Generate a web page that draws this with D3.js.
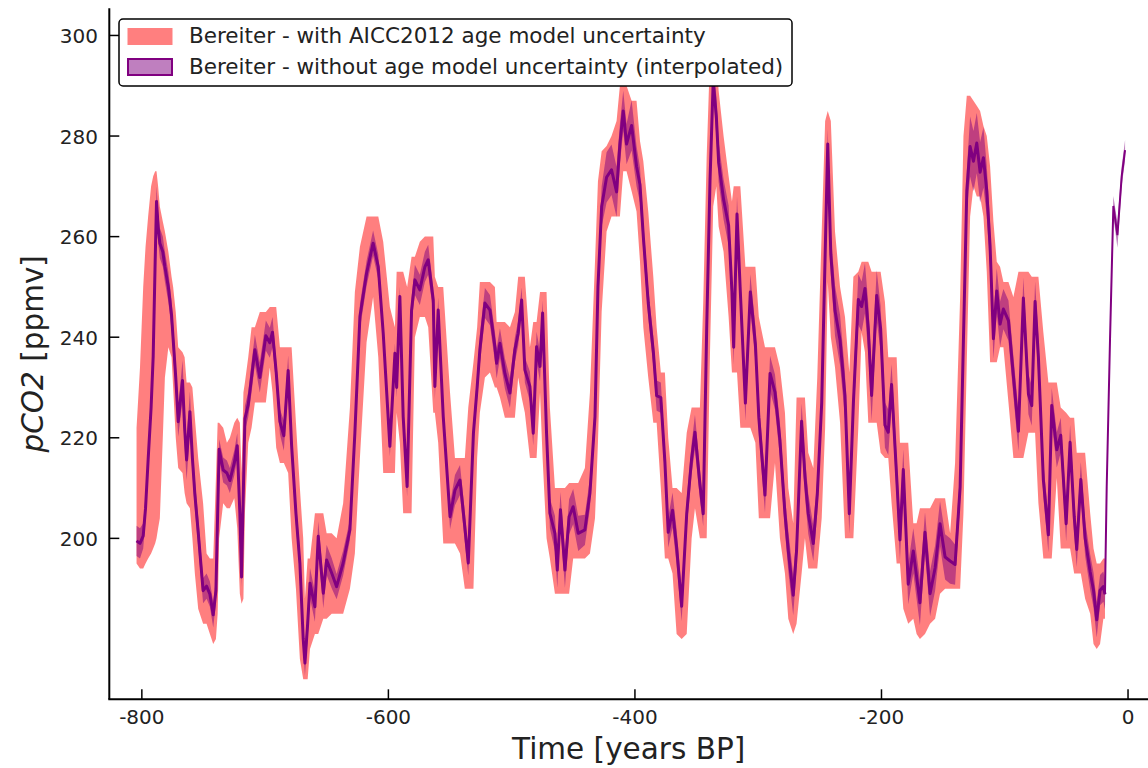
<!DOCTYPE html>
<html>
<head>
<meta charset="utf-8">
<script src="https://cdn.jsdelivr.net/npm/d3@7"></script>
<style>
  body { margin: 0; background: #fff; }
  text { font-family: "DejaVu Sans", sans-serif; fill: #222; }
</style>
</head>
<body>
<div id="chart"></div>
<script>
// ages in kyr BP (negative = before present)
const ages = [
  -804.3,-801.5,-798.9,-797,-794.9,-792.5,-790.8,-789.2,-788.1,-786.8,
  -785.4,-783,-781.3,-778.5,-775.9,-774.6,-772.5,-770.5,-767,-765.3,
  -763.7,-761,-759,-757,-754.3,-750.3,-747.5,-744.8,-742.1,-739.9,
  -738.5,-737.3,-734,-731,-728.6,-725,-722.6,-720.5,-719.1,-717.6,
  -716.4,-713.7,-711,-708.3,-704.3,-699.4,-696.2,-694,-691,-688,
  -684.8,-681.3,-678.5,-675,-671.8,-669.1,-667.7,-665.5,-663.6,-659.6,
  -656.9,-652.8,-650.1,-646,-642,-636.7,-631.2,-627.2,-623.1,-617.7,
  -612.4,-608.2,-604.2,-598.8,-594.7,-593.3,-590.7,-588,-584.8,-581.2,
  -578.5,-574.5,-570.4,-567.7,-563.6,-562.3,-559.6,-555.5,-550,-546,
  -541.9,-538,-535.2,-531,-528,-525.8,-521.7,-517.6,-513.6,-512.2,
  -509.5,-505.5,-501.4,-497.4,-494.7,-491.9,-489.3,-485.2,-482.5,-479.8,
  -477,-474.9,-471.7,-469,-464.9,-463,-460.4,-456.8,-453.4,-450.1,
  -446,-440.6,-436.5,-432.4,-430,-427,-423,-419,-414.9,-412.2,
  -409.5,-406.8,-402.7,-398.7,-395.9,-393.2,-389.2,-385.1,-382.4,-379,
  -375.7,-373,-369.5,-366.2,-362.1,-358,-354,-351.3,-347.3,-344.6,
  -341.8,-339.1,-336.5,-334,-332.1,-328.1,-324,-321.3,-319.9,-317.2,
  -314.5,-310.4,-306.4,-302.3,-299.5,-294.5,-290.4,-286.4,-282.4,-278.3,
  -275.6,-271.6,-268.9,-264.8,-262.1,-259.4,-255.3,-252.1,-248.5,-245.7,
  -243.6,-241.1,-237.7,-233.6,-229.6,-226.1,-222.8,-218.8,-216.1,-213.4,
  -210.7,-208,-203.9,-200.7,-197.2,-194.5,-191.8,-187.7,-185,-182.3,
  -178.3,-174.2,-171.5,-168.8,-164.7,-160.6,-156.5,-152.5,-148.4,-144.3,
  -140.3,-136.2,-133.5,-130.8,-128.1,-125.4,-122.7,-120,-117.3,-114.6,
  -111.9,-109.2,-106.5,-103.8,-101.1,-97,-93,-88.9,-84.9,-80.8,
  -78.1,-75.4,-72.7,-68.7,-64.6,-61.9,-57.8,-54.6,-50.2,-47,
  -43.7,-41.6,-38.3,-34.8,-30.7,-28,-25.4,-22.7,-20,-18.7,
  -17.3,-14.6,-11.9,-8.6,-5.1,-2.4
]

// interpolated median pCO2 (ppmv)
const co2 = [
  199.5,199,200.5,206,215.6,226,236.2,255,267,262,
  258.7,257,254,250,244.4,239.6,232,223.2,231.4,222,
  215.6,225.2,216,208.8,201.3,189.6,190.5,188.9,184.8,189.6,
  205,217.7,213.6,213,211.5,215,218.4,205,192.3,210,
  223.8,226.6,232,237.5,232,240.3,238.9,241,233,223.2,
  220.4,233.4,218.4,205,195.1,180,175.2,183,191.1,186.4,
  200.4,189.1,195.7,193.1,190.4,195.1,201.7,220.9,244.1,252.7,
  258.7,254,240.8,218.3,236.8,230,248.1,224.2,210.3,245.4,
  251.4,249.4,254,255.4,247.4,230.2,245.4,224.2,204.3,209.6,
  211.6,202.3,195.1,221,230,237.5,246.8,245.4,238.1,234.8,
  238.8,232.8,228.9,237.5,240.8,247.4,233.5,230.2,220.9,238.1,
  234.2,244.8,220.9,205,201,193.7,205.7,193.7,204.3,206.3,
  201,201.7,209,224.2,250,266,271.8,273.3,268.9,278.4,
  285,278.4,282.1,274,270.3,260,246.8,237.2,228.4,228,
  215.2,201.2,205.6,198.3,186.5,204.9,215.9,221.1,210.8,204.9,
  241.7,271.1,291,284,274.8,267.4,262.2,249,238,264.5,
  249,226.9,249,238.7,224,208.6,232.8,229.1,219.6,204.9,
  197.5,188.7,197.5,223.3,212.3,204.9,199,208.6,226.9,256.4,
  278.4,256.4,245.3,239.4,228.4,204.9,226.9,247.5,246.1,249.7,
  241.7,228.4,248.3,241.7,222.5,221.1,230.6,212.3,199.7,213.7,
  190.9,197.5,192.4,187.2,201.2,189,194.1,202.9,196.3,195.5,
  194.8,210.2,239.7,269.1,277.9,275,278.6,272.8,275.7,269.1,
  258.1,239.7,249.2,242.6,245.6,243.3,232.3,221.3,247.8,228.7,
  226.4,247.1,236,211.7,200.7,226.4,217.6,220.5,202.9,219.1,
  204.4,197.8,211.7,200,193.3,189.7,183.8,189.7,190.4,188.9,
  210.2,239.7,266.1,260.3,272.1,277.2
]

// envelope with AICC2012 age model uncertainty (salmon band)
const ageLo = [
  195,194,194,195,196,197,198,199,200,202,
  204,220,232,238,236,230,220,214,213,209,
  207,206,200,193,186,183,183,181,179,180,
  185,200,207,206,206,208,202,189,187,188,
  205,219,222,227,227,227,234,229,218,215,
  215,213,200,190,176,172,172,172,178,181,
  181,184,184,185,185,185,190,197,216,239,
  248,236,213,213,213,225,219,205,205,205,
  240,244,244,242,225,225,219,199,199,199,
  197,190,190,190,216,225,232,233,230,230,
  228,224,224,224,232,228,225,216,216,216,
  229,216,200,196,189,189,189,189,189,196,
  196,196,197,204,219,245,261,264,264,264,
  273,273,269,265,255,242,232,223,223,210,
  196,196,193,181,180,181,200,206,200,200,
  200,237,266,270,262,257,244,233,233,233,
  222,222,222,219,204,204,204,215,200,193,
  184,181,183,193,200,194,194,194,204,222,
  251,240,234,223,200,200,200,222,241,237,
  223,223,223,217,216,216,207,195,195,186,
  183,184,181,180,181,183,184,189,190,190,
  190,190,205,235,264,270,268,268,264,253,
  235,235,235,238,238,227,216,216,216,221,
  221,221,207,196,196,196,212,198,198,198,
  193,193,193,188,185,179,178,179,184,184,
  null,null,null,null,null,null
]
const ageHi = [
  222,234,250,258,264,270,272,273,273,270,
  266,263,261,257,252,250,245,238,237,236,
  231,231,230,224,216,207,197,196,196,212,
  223,223,222,219,220,223,224,223,213,229,
  231,236,242,242,245,245,246,246,246,238,
  238,238,238,223,210,200,188,196,196,205,
  205,205,201,201,200,207,226,249,258,264,
  264,264,259,246,242,253,253,253,250,256,
  256,259,260,260,260,252,250,250,229,216,
  216,216,226,235,242,251,251,251,250,243,
  243,243,242,245,252,252,252,238,243,243,
  249,249,249,226,210,210,210,210,211,211,
  211,214,229,255,271,277,278,280,283,290,
  290,290,287,287,279,275,265,252,242,233,
  233,220,210,210,209,221,226,226,226,247,
  276,296,296,296,289,280,272,267,270,270,
  270,254,254,254,244,238,238,238,234,225,
  210,203,228,228,228,217,214,232,261,283,
  285,283,261,250,244,233,252,253,255,255,
  255,253,253,253,247,236,236,236,219,219,
  219,203,203,206,206,206,208,208,208,201,
  215,248,280,288,288,287,286,285,282,280,
  274,263,255,254,251,251,248,253,253,253,
  252,252,252,241,231,231,231,226,225,224,
  224,217,217,217,205,198,195,195,196,196,
  null,null,null,null,null,null
]

// half width of the band without age model uncertainty (ppmv)
const intHalf = [
  3,3,2.5,2.5,2.5,2.5,2.5,3,3,3,
  3,3,3,3,3,3,3,3,4,4,
  4,4,3,3,3,2.5,2.5,2.5,2.5,2.5,
  2,2,2.5,2.5,2.5,2.5,2.5,2,2,2,
  2.5,2.5,3,3,3,3,3,3,2.5,2.5,
  3,3,2.5,2.5,2.5,2,2.5,3,3,3,
  3,3,3,3,2.5,2.5,2,2,2.5,2.5,
  2.5,2.5,2,2,2,2,2,2,2,2.5,
  3,3,3,3,2.5,2.5,2.5,2,2.5,3,
  3,3,2.5,2,2.5,3,3,3,3,3,
  3,3,3,2.5,2.5,2.5,2.5,3,2.5,3,
  3,2.5,2.5,3,3.5,3.5,3.5,3.5,3.5,3.5,
  3.5,3,3,2.5,3,4,5,5,5,4,
  4,4,5,4,3.5,3,3,3,3,3,
  3,3,3.5,3.5,3,3,3,3.5,3,2.5,
  2.5,3,3,4,4,4,4,3.5,3.5,3.5,
  3.5,3.5,3.5,3.5,3.5,3.5,3.5,3.5,3.5,3.5,
  4,4,3.5,3.5,4,4,3.5,3.5,3,3,
  3,4,5,5,4.5,4,4,5,5,5,
  5,5,5,4.5,4.5,4.5,4,4,4,4,
  4,4.5,4.5,4.5,4,4.5,4.5,4.5,4.5,4.5,
  4,3,3,4,6,6,6,6,6,5,
  4.5,4,4.5,4.5,4,4,4,4,4,4,
  4,4,4,3.5,3.5,3.5,3.5,3.5,3.5,3.5,
  3.5,3.5,3.5,3.5,3.5,3.5,3.5,3,3,3,
  1.5,1.5,2,2.5,2,2
]

const xTicks = [-800, -600, -400, -200, 0]
const yTicks = [200, 220, 240, 260, 280, 300]
const legendLabels = [
  'Bereiter - with AICC2012 age model uncertainty',
  'Bereiter - without age model uncertainty (interpolated)'
]

const W = 1148, H = 768
const plot = { left: 109.3, right: 1148, top: 8.3, bottom: 699.3 }

const svg = d3.select('#chart').append('svg')
  .attr('width', W)
  .attr('height', H)

const x = d3.scaleLinear().domain([-826.4, 16.2]).range([plot.left, plot.right])
const y = d3.scaleLinear().domain([168.0, 305.4]).range([plot.bottom, plot.top])

const data = ages.map((a, i) => ({
  age: a, v: co2[i], lo: ageLo[i], hi: ageHi[i], h: intHalf[i]
}))

// salmon band
svg.append('path')
  .datum(data)
  .attr('d', d3.area()
    .defined(d => d.lo != null)
    .x(d => x(d.age))
    .y0(d => y(d.lo))
    .y1(d => y(d.hi)))
  .style('fill', 'red')
  .style('fill-opacity', 0.5)

// purple band
svg.append('path')
  .datum(data)
  .attr('d', d3.area()
    .x(d => x(d.age))
    .y0(d => y(d.v - d.h))
    .y1(d => y(d.v + d.h)))
  .style('fill', 'purple')
  .style('fill-opacity', 0.5)

// median line, thinner over the Holocene part
const line = d3.line().x(d => x(d.age)).y(d => y(d.v))
svg.append('path')
  .datum(data.filter(d => d.lo != null))
  .attr('d', line)
  .style('fill', 'none')
  .style('stroke', 'purple')
  .style('stroke-width', 3)
  .style('stroke-linejoin', 'round')
svg.append('path')
  .datum(data.filter((d, i) => d.lo == null || (data[i + 1] && data[i + 1].lo == null)))
  .attr('d', line)
  .style('fill', 'none')
  .style('stroke', 'purple')
  .style('stroke-width', 2)

// axes (ticks pointing inward)
const axisG = svg.append('g')
axisG.append('line')
  .attr('x1', plot.left).attr('x2', plot.left)
  .attr('y1', plot.top).attr('y2', plot.bottom)
  .style('stroke', '#000').style('stroke-width', 2)
axisG.append('line')
  .attr('x1', plot.left - 1).attr('x2', plot.right)
  .attr('y1', plot.bottom).attr('y2', plot.bottom)
  .style('stroke', '#000').style('stroke-width', 2)

axisG.selectAll('.xt').data(xTicks).join('line')
  .attr('x1', d => x(d)).attr('x2', d => x(d))
  .attr('y1', plot.bottom).attr('y2', plot.bottom - 10)
  .style('stroke', '#000').style('stroke-width', 1.5)
axisG.selectAll('.xl').data(xTicks).join('text')
  .attr('x', d => x(d))
  .attr('y', 723.5)
  .attr('text-anchor', 'middle')
  .style('font-size', '20px')
  .text(d => d)

axisG.selectAll('.yt').data(yTicks).join('line')
  .attr('x1', plot.left).attr('x2', plot.left + 10)
  .attr('y1', d => y(d)).attr('y2', d => y(d))
  .style('stroke', '#000').style('stroke-width', 1.5)
axisG.selectAll('.yl').data(yTicks).join('text')
  .attr('x', 98)
  .attr('y', d => y(d) + 7.5)
  .attr('text-anchor', 'end')
  .style('font-size', '20px')
  .text(d => d)

svg.append('text')
  .attr('x', (plot.left + plot.right) / 2)
  .attr('y', 759)
  .attr('text-anchor', 'middle')
  .style('font-size', '29.5px')
  .text('Time [years BP]')

const yTitle = svg.append('text')
  .attr('transform', `translate(43,${(plot.top + plot.bottom) / 2}) rotate(-90)`)
  .attr('text-anchor', 'middle')
  .style('font-size', '29.5px')
yTitle.append('tspan').style('font-style', 'italic').text('pCO2')
yTitle.append('tspan').text(' [ppmv]')

// legend
const leg = svg.append('g')
leg.append('rect')
  .attr('x', 119).attr('y', 19)
  .attr('width', 673).attr('height', 67)
  .attr('rx', 4)
  .style('fill', '#fff')
  .style('stroke', '#000')
  .style('stroke-width', 1.5)

const patchStyles = [
  { fill: 'red', op: 0.5, stroke: '#ff8080', sw: 1 },
  { fill: 'purple', op: 0.5, stroke: 'purple', sw: 2 }
]
legendLabels.forEach((lab, i) => {
  const yy = 28.5 + i * 30.5
  leg.append('rect')
    .attr('x', 128).attr('y', yy)
    .attr('width', 44).attr('height', 16)
    .style('fill', patchStyles[i].fill)
    .style('fill-opacity', patchStyles[i].op)
    .style('stroke', patchStyles[i].stroke)
    .style('stroke-width', patchStyles[i].sw)
  leg.append('text')
    .attr('x', 189)
    .attr('y', yy + 14.5)
    .style('font-size', '21.5px')
    .text(lab)
})
</script>
</body>
</html>
